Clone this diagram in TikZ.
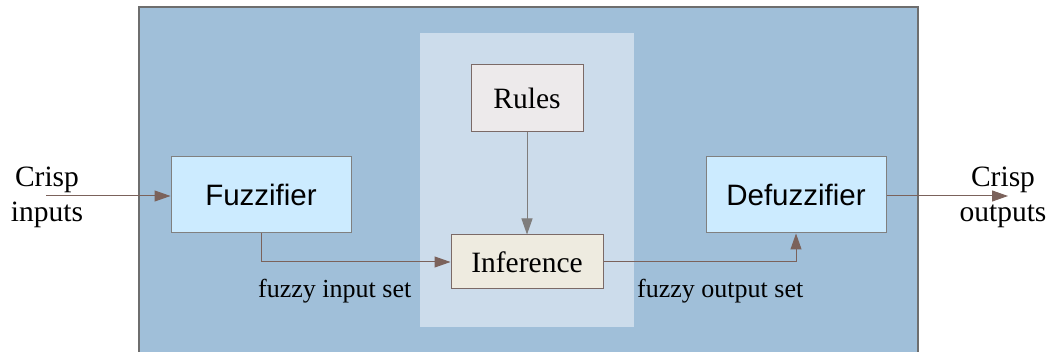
\documentclass[tikz,border=0pt]{standalone}
\usepackage{fontspec}
\setmainfont{Liberation Serif}
\newfontfamily\arialf{Liberation Sans}
\usetikzlibrary{arrows.meta}
\definecolor{outerfill}{HTML}{A0BFD9}
\definecolor{outerline}{HTML}{6E6E6E}
\definecolor{panelfill}{HTML}{CCDCEB}
\definecolor{fuzzfill}{HTML}{CCEBFF}
\definecolor{fuzzline}{HTML}{808080}
\definecolor{rulesfill}{HTML}{EDEAEB}
\definecolor{inffill}{HTML}{EEEBE0}
\definecolor{boxline}{HTML}{7B6A67}
\definecolor{arrowcol}{HTML}{7B625B}
\tikzset{
  sansbox/.style={draw=fuzzline, line width=1pt, fill=fuzzfill, minimum width=180pt, minimum height=76pt, inner sep=0pt, font=\arialf\fontsize{29.5}{34}\selectfont},
  serifbox/.style={draw=boxline, line width=1pt, inner sep=0pt, font=\fontsize{29.5}{34}\selectfont},
  conn/.style={draw=arrowcol, line width=1pt, -{Triangle[length=16pt, width=11pt]}},
  lbl/.style={inner sep=0pt, font=\fontsize{26}{30}\selectfont},
  crisp/.style={inner sep=0pt, align=center, font=\fontsize{29.5}{35}\selectfont}
}
\begin{document}
\begin{tikzpicture}[x=1pt,y=-1pt]
\useasboundingbox (0,0) rectangle (1051,352);
\fill[white] (0,0) rectangle (1051,352);
\begin{scope}
\clip (0,0) rectangle (1051,352);
\filldraw[fill=outerfill, draw=outerline, line width=1.5pt] (139,7) rectangle (918,370);
\end{scope}
\fill[panelfill] (420,33) rectangle (634,327);
\node[serifbox, fill=rulesfill, minimum width=112pt, minimum height=67pt] (rules) at (527,98.5) {Rules};
\node[serifbox, fill=inffill, minimum width=152pt, minimum height=54pt] (inf) at (527,262) {Inference};
\node[sansbox] (fuzz) at (261,195) {Fuzzifier};
\node[sansbox] (defuzz) at (796,195) {Defuzzifier};
\node[crisp] (cin) at (47,197) {Crisp\\inputs};
\node[crisp] (cout) at (1003,197) {Crisp\\outputs};
\coordinate (inend) at (46,196);
\coordinate (outend) at (1008,196);
\node[lbl, anchor=base west] (lin) at (258,298) {fuzzy input set};
\node[lbl, anchor=base west] (lout) at (637,298) {fuzzy output set};
\draw[conn] (inend) -- (inend -| fuzz.west);
\draw[conn, draw=fuzzline!90!arrowcol] (rules.south) -- (inf.north);
\draw[conn] (fuzz.south) |- (inf.west);
\draw[conn] (inf.east) -| (defuzz.south);
\draw[conn] (defuzz.east |- outend) -- (outend);
\end{tikzpicture}
\end{document}
